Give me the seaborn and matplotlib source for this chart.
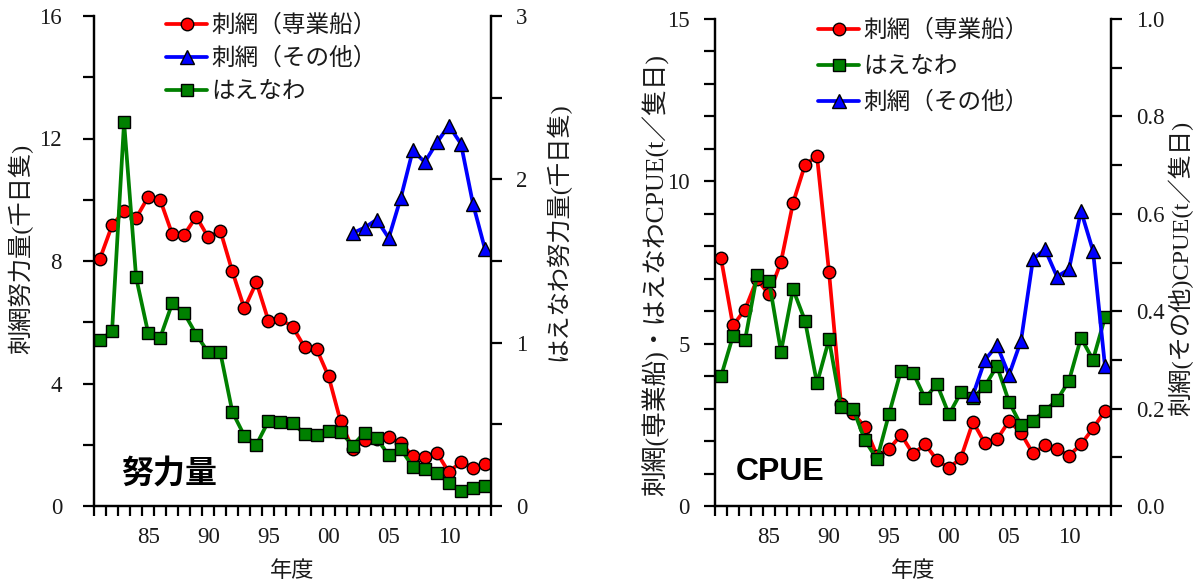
import numpy as np
import pandas as pd
import matplotlib
matplotlib.use("Agg")
import matplotlib.pyplot as plt
import seaborn as sns

sns.set_theme(style="white")
plt.rcParams['font.family'] = ['Liberation Serif', 'Noto Sans CJK JP', 'DejaVu Sans']

# ---------------- data ----------------
years = list(range(1981, 2014))
years_other = list(range(2002, 2014))

effort_gillnet_main = [8.08, 9.16, 9.63, 9.40, 10.09, 10.00, 8.88, 8.86, 9.45, 8.77, 8.99,
                       7.66, 6.45, 7.30, 6.05, 6.09, 5.86, 5.19, 5.13, 4.23, 2.76,
                       1.86, 2.16, 2.20, 2.24, 2.05, 1.63, 1.61, 1.74, 1.10, 1.45, 1.25, 1.38]
effort_gillnet_other = [8.91, 9.09, 9.35, 8.75, 10.06, 11.61, 11.23, 11.87, 12.42, 11.83, 9.87, 8.39]
effort_longline = [1.015, 1.07, 2.35, 1.40, 1.06, 1.03, 1.24, 1.18, 1.05, 0.94, 0.94,
                   0.576, 0.43, 0.375, 0.52, 0.514, 0.51, 0.44, 0.435, 0.46, 0.455,
                   0.37, 0.45, 0.415, 0.31, 0.35, 0.24, 0.225, 0.204, 0.143, 0.094, 0.108, 0.122]

cpue_gillnet_main = [7.63, 5.56, 6.05, 6.98, 6.52, 7.52, 9.33, 10.51, 10.78, 7.21, 3.14,
                     2.85, 2.44, 1.55, 1.75, 2.19, 1.60, 1.90, 1.42, 1.16, 1.49,
                     2.59, 1.93, 2.05, 2.62, 2.26, 1.62, 1.87, 1.75, 1.55, 1.90, 2.39, 2.93]
cpue_longline = [3.99, 5.24, 5.10, 7.10, 6.93, 4.75, 6.68, 5.71, 3.78, 5.13, 3.05,
                 3.00, 2.02, 1.44, 2.83, 4.17, 4.11, 3.32, 3.75, 2.82, 3.50,
                 3.32, 3.70, 4.31, 3.21, 2.49, 2.63, 2.94, 3.26, 3.86, 5.18, 4.50, 5.81]
cpue_gillnet_other = [0.228, 0.30, 0.33, 0.269, 0.339, 0.507, 0.527, 0.471, 0.486, 0.606, 0.524, 0.287]

xtick_years = [1985, 1990, 1995, 2000, 2005, 2010]
xtick_labels = ['85', '90', '95', '00', '05', '10']

lab_main = '刺網（専業船）'
lab_other = '刺網（その他）'
lab_long = 'はえなわ'

df_main = pd.DataFrame({'year': years, 'eff_main': effort_gillnet_main, 'eff_long': effort_longline,
                        'cpue_main': cpue_gillnet_main, 'cpue_long': cpue_longline})
df_other = pd.DataFrame({'year': years_other, 'eff_other': effort_gillnet_other,
                         'cpue_other': cpue_gillnet_other})

# ---------------- styles ----------------
RED, BLUE, GREEN = '#FF0000', '#0000FF', '#008000'
LW = 2.7
common = dict(markeredgecolor='black', markeredgewidth=1.0, linewidth=LW)
MS_O, MS_S, MS_T = 9.0, 8.6, 10.0
TXT = '#1a1a1a'
serif_cjk = ['Liberation Serif', 'Noto Sans CJK JP']
cjk = ['Noto Sans CJK JP', 'DejaVu Sans']
TICK_FS = 16.5
LAB_FS = 17.5

fig = plt.figure(figsize=(11.98, 5.85), dpi=100)
W, H = 1198, 585
def rect(l, r, t, b):
    return [l / W, 1 - b / H, (r - l) / W, (b - t) / H]

ax1 = fig.add_axes(rect(94, 491, 16, 506))
ax1r = ax1.twinx()
ax2 = fig.add_axes(rect(715, 1111, 19, 506))
ax2r = ax2.twinx()

# Left panel: effort
sns.lineplot(data=df_main, x='year', y='eff_main', ax=ax1, color=RED, marker='o', markersize=MS_O,
             label=lab_main, legend=False, **common)
sns.lineplot(data=df_other, x='year', y='eff_other', ax=ax1, color=BLUE, marker='^', markersize=MS_T,
             label=lab_other, legend=False, **common)
sns.lineplot(data=df_main, x='year', y='eff_long', ax=ax1r, color=GREEN, marker='s', markersize=MS_S,
             label=lab_long, legend=False, **common)

# Right panel: CPUE
sns.lineplot(data=df_main, x='year', y='cpue_main', ax=ax2, color=RED, marker='o', markersize=MS_O,
             label=lab_main, legend=False, **common)
sns.lineplot(data=df_main, x='year', y='cpue_long', ax=ax2, color=GREEN, marker='s', markersize=MS_S,
             label=lab_long, legend=False, **common)
sns.lineplot(data=df_other, x='year', y='cpue_other', ax=ax2r, color=BLUE, marker='^', markersize=MS_T,
             label=lab_other, legend=False, **common)

for ax in (ax1, ax1r, ax2, ax2r):
    ax.set_xlim(1980.5, 2013.5)
    ax.set_facecolor('none')
    ax.grid(False)
    for s in ax.spines.values():
        s.set_linewidth(1.6)
        s.set_color('black')
    ax.spines['top'].set_visible(False)

ax1.set_ylim(0, 16)
ax1r.set_ylim(0, 3)
ax2.set_ylim(0, 15)
ax2r.set_ylim(0, 1.0)

def style_x(ax):
    ax.set_xticks(xtick_years)
    ax.set_xticklabels(xtick_labels)
    ax.set_xticks(np.arange(1980.5, 2014.0, 1.0), minor=True)
    ax.tick_params(axis='x', which='major', length=0, pad=15, labelsize=TICK_FS, labelcolor=TXT)
    ax.tick_params(axis='x', which='minor', length=7, width=1.6, direction='out', color='black',
                   bottom=True)
    ax.set_xlabel('年度', fontfamily=cjk, fontsize=16, color=TXT, labelpad=8)

style_x(ax1)
style_x(ax2)
for ax in (ax1r, ax2r):
    ax.tick_params(axis='x', which='both', bottom=False, labelbottom=False)

def style_y(ax, major, minor, labels, pad, side):
    ax.set_yticks(major)
    ax.set_yticklabels(labels)
    ax.set_yticks(minor, minor=True)
    ax.tick_params(axis='y', which='both', length=8, width=1.6, direction='out', color='black',
                   pad=pad, labelsize=TICK_FS, labelcolor=TXT)
    if side == 'left':
        ax.tick_params(axis='y', which='both', left=True, right=False)
    else:
        ax.tick_params(axis='y', which='both', left=False, right=True)

style_y(ax1, [0, 4, 8, 12, 16], [2, 6, 10, 14], ['0', '4', '8', '12', '16'], 15, 'left')
style_y(ax1r, [0, 1, 2, 3], [0.5, 1.5, 2.5], ['0', '1', '2', '3'], 10, 'right')
style_y(ax2, [0, 5, 10, 15], [v for v in range(16) if v % 5], ['0', '5', '10', '15'], 10, 'left')
style_y(ax2r, [0, 0.2, 0.4, 0.6, 0.8, 1.0], [0.1, 0.3, 0.5, 0.7, 0.9],
        ['0.0', '0.2', '0.4', '0.6', '0.8', '1.0'], 10, 'right')

# y labels: left labels anchored at their right edge, right labels at their left edge
ax1.set_ylabel('刺網努力量(千日隻)', fontfamily=serif_cjk, fontsize=LAB_FS, color=TXT)
ax1.yaxis.set_label_coords((33 - 94) / 397, (506 - 249) / 490)
ax1r.set_ylabel('はえなわ努力量(千日隻)', fontfamily=serif_cjk, fontsize=LAB_FS, color=TXT, rotation=90)
ax1r.yaxis.set_label_coords((545 - 94) / 397, (506 - 232) / 490)
ax2.set_ylabel('刺網(専業船)・はえなわCPUE(t／隻日)', fontfamily=serif_cjk, fontsize=18.5, color=TXT)
ax2.yaxis.set_label_coords((668 - 715) / 396, (506 - 275) / 487)
ax2r.set_ylabel('刺網(その他)CPUE(t／隻日)', fontfamily=serif_cjk, fontsize=LAB_FS, color=TXT, rotation=90)
ax2r.yaxis.set_label_coords((1168 - 715) / 396, (506 - 268) / 487)

# Panel titles
ax1.text((121 - 94) / 397, (506 - 474) / 490, '努力量', transform=ax1.transAxes,
         fontfamily=['Noto Sans CJK JP'], fontweight='bold', fontsize=23, color='black',
         ha='left', va='center')
ax2.text((736 - 715) / 396, (506 - 472) / 487, 'CPUE', transform=ax2.transAxes,
         fontfamily=['Liberation Sans'], fontweight='bold', fontsize=23, color='black',
         ha='left', va='center')

# Legends
h1, l1 = ax1.get_legend_handles_labels()
h1r, l1r = ax1r.get_legend_handles_labels()
leg1 = ax1r.legend(h1 + h1r, l1 + l1r, loc='upper left',
                   bbox_to_anchor=((166 - 94) / 397, (506 - 14) / 490),
                   frameon=False, prop={'family': cjk, 'size': 17}, handlelength=1.75,
                   handletextpad=0.15, labelspacing=0.42, borderaxespad=0, borderpad=0)
h2, l2 = ax2.get_legend_handles_labels()
h2r, l2r = ax2r.get_legend_handles_labels()
leg2 = ax2r.legend(h2 + h2r, l2 + l2r, loc='upper left',
                   bbox_to_anchor=((818 - 715) / 396, (506 - 19) / 487),
                   frameon=False, prop={'family': cjk, 'size': 17}, handlelength=1.75,
                   handletextpad=0.15, labelspacing=0.55, borderaxespad=0, borderpad=0)
for leg in (leg1, leg2):
    for t in leg.get_texts():
        t.set_color(TXT)

fig.savefig('out.png', dpi=100)
